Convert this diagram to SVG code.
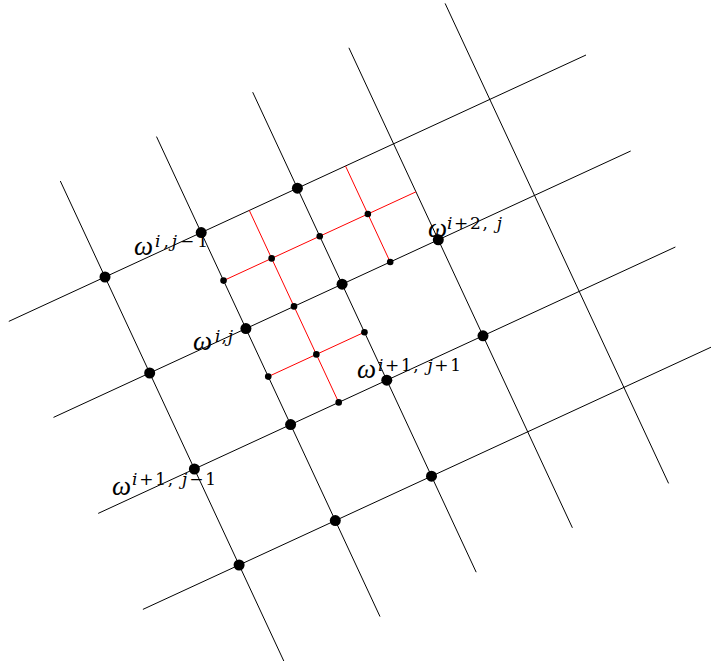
<svg xmlns="http://www.w3.org/2000/svg" width="711" height="662" viewBox="0 0 711 662">
<style>
.ln{stroke:#000;stroke-width:1;fill:none}
.rd{stroke:#f00;stroke-width:1;fill:none}
.big{fill:#000}
.sm{fill:#000}
.w{font-family:"Liberation Serif","DejaVu Serif",serif;font-style:italic;font-size:27px;fill:#000}
.s{font-family:"DejaVu Serif","Liberation Serif",serif;font-size:17px;fill:#000}
.it{font-style:italic}
</style>
<rect width="711" height="662" fill="#fff"/>
<g id="connectors">
<line class="ln" x1="8.8" y1="321.4" x2="586" y2="55"/>
<line class="ln" x1="53.5" y1="417.4" x2="630.7" y2="151"/>
<line class="ln" x1="98.2" y1="513.4" x2="675.4" y2="247"/>
<line class="ln" x1="142.9" y1="609.4" x2="720.1" y2="343"/>
<line class="ln" x1="60.3" y1="181" x2="283.8" y2="661"/>
<line class="ln" x1="156.5" y1="136.6" x2="380" y2="616.6"/>
<line class="ln" x1="252.7" y1="92.2" x2="476.2" y2="572.2"/>
<line class="ln" x1="348.9" y1="47.8" x2="572.4" y2="527.8"/>
<line class="ln" x1="445.1" y1="3.4" x2="668.6" y2="483.4"/>
<line class="rd" x1="223.55" y1="280.6" x2="416" y2="191.8"/>
<line class="rd" x1="249.3" y1="210.4" x2="338.7" y2="402.4"/>
<line class="rd" x1="345.5" y1="166" x2="390.2" y2="262"/>
<line class="rd" x1="268.25" y1="376.6" x2="364.45" y2="332.2"/>
</g>
<g id="n00"><circle class="big" cx="105" cy="277" r="5.5"/></g>
<g id="n10"><circle class="big" cx="201.2" cy="232.6" r="5.5"/></g>
<g id="n20"><circle class="big" cx="297.4" cy="188.2" r="5.5"/></g>
<g id="n01"><circle class="big" cx="149.7" cy="373" r="5.5"/></g>
<g id="n11"><circle class="big" cx="245.9" cy="328.6" r="5.5"/></g>
<g id="n21"><circle class="big" cx="342.1" cy="284.2" r="5.5"/></g>
<g id="n31"><circle class="big" cx="438.3" cy="239.8" r="5.5"/></g>
<g id="n02"><circle class="big" cx="194.4" cy="469" r="5.5"/></g>
<g id="n12"><circle class="big" cx="290.6" cy="424.6" r="5.5"/></g>
<g id="n22"><circle class="big" cx="386.8" cy="380.2" r="5.5"/></g>
<g id="n32"><circle class="big" cx="483" cy="335.8" r="5.5"/></g>
<g id="n03"><circle class="big" cx="239.1" cy="565" r="5.5"/></g>
<g id="n13"><circle class="big" cx="335.3" cy="520.6" r="5.5"/></g>
<g id="n23"><circle class="big" cx="431.5" cy="476.2" r="5.5"/></g>
<g id="f1"><circle class="sm" cx="223.55" cy="280.6" r="3.3"/></g>
<g id="f2"><circle class="sm" cx="271.65" cy="258.4" r="3.3"/></g>
<g id="f3"><circle class="sm" cx="319.75" cy="236.2" r="3.3"/></g>
<g id="f4"><circle class="sm" cx="367.85" cy="214" r="3.3"/></g>
<g id="f5"><circle class="sm" cx="390.2" cy="262" r="3.3"/></g>
<g id="f6"><circle class="sm" cx="294" cy="306.4" r="3.3"/></g>
<g id="f7"><circle class="sm" cx="364.45" cy="332.2" r="3.3"/></g>
<g id="f8"><circle class="sm" cx="316.35" cy="354.4" r="3.3"/></g>
<g id="f9"><circle class="sm" cx="268.25" cy="376.6" r="3.3"/></g>
<g id="f10"><circle class="sm" cx="338.7" cy="402.4" r="3.3"/></g>
<g id="labels">
<text class="w" x="134" y="255">ω</text>
<text class="s" x="155" y="247" textLength="53" lengthAdjust="spacing"><tspan class="it">i</tspan>,<tspan class="it">j</tspan>−1</text>
<text class="w" x="193" y="350">ω</text>
<text class="s" x="215" y="342" textLength="18" lengthAdjust="spacing"><tspan class="it">i</tspan>,<tspan class="it">j</tspan></text>
<text class="w" x="428" y="237">ω</text>
<text class="s" x="447" y="229" textLength="55" lengthAdjust="spacing"><tspan class="it">i</tspan>+2, <tspan class="it">j</tspan></text>
<text class="w" x="357" y="378">ω</text>
<text class="s" x="378" y="371" textLength="83" lengthAdjust="spacing"><tspan class="it">i</tspan>+1, <tspan class="it">j</tspan>+1</text>
<text class="w" x="112" y="495">ω</text>
<text class="s" x="132" y="485" textLength="84" lengthAdjust="spacing"><tspan class="it">i</tspan>+1, <tspan class="it">j</tspan>−1</text>
</g>
</svg>
